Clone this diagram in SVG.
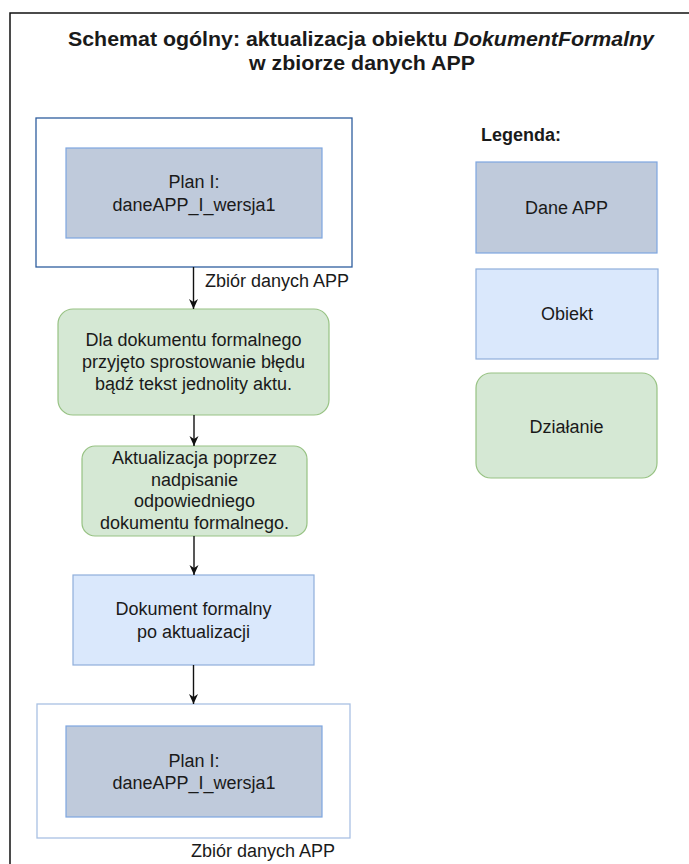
<svg xmlns="http://www.w3.org/2000/svg" width="689" height="864" viewBox="0 0 689 864">
<defs>
<style>
text{font-family:"Liberation Sans",Arial,sans-serif;font-size:18px;fill:#1a1a1a}
.c{text-anchor:middle}
.b{font-weight:bold}
.t{font-size:19.5px}
.dane{fill:#BFCADB;stroke:#7EA6E0;stroke-width:1.2}
.obj{fill:#DAE8FC;stroke:#8FAEDB;stroke-width:1.2}
.act{fill:#D5E8D4;stroke:#97C283;stroke-width:1.2}
.cont{fill:#ffffff;stroke-width:1.3}
.edge{stroke:#111;stroke-width:1.4;fill:none}
</style>
<marker id="arr" viewBox="0 0 10 10" refX="10" refY="5" markerWidth="10" markerHeight="10" markerUnits="userSpaceOnUse" orient="auto">
<path d="M0,0.5 L10,5 L0,9.5 L3,5 Z" fill="#111"/>
</marker>
</defs>
<rect width="689" height="864" fill="#ffffff"/>
<rect x="10" y="13" width="700" height="880" fill="none" stroke="#111" stroke-width="1.5"/>
<g id="title">
<text class="c b t" x="361" y="46" textLength="586" lengthAdjust="spacingAndGlyphs">Schemat ogólny: aktualizacja obiektu <tspan font-style="italic">DokumentFormalny</tspan></text>
<text class="c b t" x="362" y="70" textLength="226" lengthAdjust="spacingAndGlyphs">w zbiorze danych APP</text>
</g>
<g id="zbior1">
<rect class="cont" x="36" y="118" width="316" height="149" stroke="#2F5E9E"/>
</g>
<g id="plan1">
<rect class="dane" x="66" y="148" width="256" height="90"/>
<text class="c" x="194" y="188">Plan I:</text>
<text class="c" x="194" y="211">daneAPP_I_wersja1</text>
</g>
<g id="dzialanie1">
<rect class="act" x="58" y="309" width="271" height="106" rx="15"/>
<text class="c" x="193.5" y="346">Dla dokumentu formalnego</text>
<text class="c" x="193.5" y="368">przyjęto sprostowanie błędu</text>
<text class="c" x="193.5" y="390">bądź tekst jednolity aktu.</text>
</g>
<g id="dzialanie2">
<rect class="act" x="82" y="446" width="225" height="90" rx="13"/>
<text class="c" x="194.5" y="464">Aktualizacja poprzez</text>
<text class="c" x="194.5" y="486">nadpisanie</text>
<text class="c" x="194.5" y="507">odpowiedniego</text>
<text class="c" x="194.5" y="529">dokumentu formalnego.</text>
</g>
<g id="dokument">
<rect class="obj" x="73" y="575" width="241" height="90"/>
<text class="c" x="193.5" y="615">Dokument formalny</text>
<text class="c" x="193.5" y="638">po aktualizacji</text>
</g>
<g id="zbior2">
<rect class="cont" x="37" y="704" width="313" height="134" stroke="#A9C1E3"/>
<text x="191" y="857">Zbiór danych APP</text>
</g>
<g id="plan2">
<rect class="dane" x="66" y="726" width="256" height="91"/>
<text class="c" x="194" y="767">Plan I:</text>
<text class="c" x="194" y="789">daneAPP_I_wersja1</text>
</g>
<g id="legenda">
<text class="b" x="481" y="141">Legenda:</text>
</g>
<g id="leg-dane">
<rect class="dane" x="476" y="162" width="181" height="91"/>
<text class="c" x="566.5" y="214">Dane APP</text>
</g>
<g id="leg-obiekt">
<rect class="obj" x="476" y="269" width="182" height="90"/>
<text class="c" x="567" y="320">Obiekt</text>
</g>
<g id="leg-dzialanie">
<rect class="act" x="476" y="373" width="181" height="105" rx="15"/>
<text class="c" x="566.5" y="433">Działanie</text>
</g>
<g id="connectors">
<line class="edge" x1="193.5" y1="267" x2="193.5" y2="309" marker-end="url(#arr)"/>
<text x="205" y="287">Zbiór danych APP</text>
<line class="edge" x1="194" y1="415" x2="194" y2="446" marker-end="url(#arr)"/>
<line class="edge" x1="194" y1="536" x2="194" y2="575" marker-end="url(#arr)"/>
<line class="edge" x1="193.5" y1="665" x2="193.5" y2="704" marker-end="url(#arr)"/>
</g>
</svg>
